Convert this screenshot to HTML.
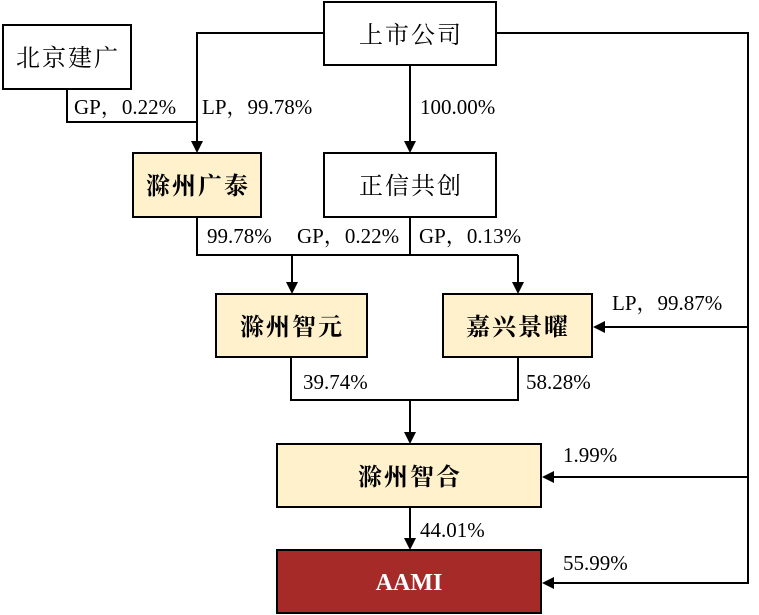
<!DOCTYPE html>
<html>
<head>
<meta charset="utf-8">
<style>
html,body{margin:0;padding:0;background:#fff;}
svg{display:block;}
.lbl{font-family:"Liberation Serif","Noto Serif CJK SC",serif;font-size:21px;fill:#000;}
.box{font-family:"Liberation Serif","Noto Serif CJK SC",serif;font-size:24px;fill:#000;letter-spacing:2px;}
.bold{font-weight:bold;}
</style>
</head>
<body>
<svg width="759" height="615" viewBox="0 0 759 615" xmlns="http://www.w3.org/2000/svg">

  <!-- connectors -->
  <g stroke="#000" stroke-width="2" fill="none">
    <polyline points="323,33 197,33 197,141" />
    <polyline points="67,90 67,122 197,122" />
    <line x1="410" y1="66" x2="410" y2="141"/>
    <polyline points="497,33 748,33 748,584" />
    <polyline points="197,218 197,255 518,255" />
    <line x1="410" y1="218" x2="410" y2="255"/>
    <line x1="292" y1="255" x2="292" y2="282"/>
    <line x1="518" y1="255" x2="518" y2="282"/>
    <polyline points="291,358 291,400 518,400 518,358" />
    <line x1="410" y1="400" x2="410" y2="432"/>
    <line x1="748" y1="327" x2="604" y2="327"/>
    <line x1="748" y1="477" x2="553" y2="477"/>
    <line x1="749" y1="583" x2="553" y2="583"/>
    <line x1="410" y1="508" x2="410" y2="538"/>
  </g>

  <!-- arrowheads -->
  <g fill="#000">
    <path d="M191,141 L203,141 L197,153 Z"/>
    <path d="M404,141 L416,141 L410,153 Z"/>
    <path d="M286,282 L298,282 L292,294 Z"/>
    <path d="M512,282 L524,282 L518,294 Z"/>
    <path d="M404,432 L416,432 L410,444 Z"/>
    <path d="M404,538 L416,538 L410,550 Z"/>
    <path d="M605,321 L605,333 L593,327 Z"/>
    <path d="M554,471 L554,483 L542,477 Z"/>
    <path d="M554,577 L554,589 L542,583 Z"/>
  </g>

  <!-- boxes -->
  <g stroke="#000" stroke-width="2">
    <rect x="3" y="25" width="128" height="64" fill="#fff"/>
    <rect x="324" y="2" width="172" height="63" fill="#fff"/>
    <rect x="133" y="153" width="128" height="64" fill="#FFF1CC"/>
    <rect x="324" y="153" width="172" height="64" fill="#fff"/>
    <rect x="216" y="294" width="151" height="63" fill="#FFF1CC"/>
    <rect x="443" y="294" width="149" height="63" fill="#FFF1CC"/>
    <rect x="277" y="444" width="264" height="63" fill="#FFF1CC"/>
    <rect x="277" y="550" width="264" height="63" fill="#A52A28"/>
  </g>

  <!-- box text -->
  <g text-anchor="middle">
    <text class="box" x="68" y="66">北京建广</text>
    <text class="box" x="411" y="43">上市公司</text>
    <text class="box bold" x="198" y="194">滁州广泰</text>
    <text class="box" x="411" y="194">正信共创</text>
    <text class="box bold" x="292" y="335">滁州智元</text>
    <text class="box bold" x="518" y="335">嘉兴景曜</text>
    <text class="box bold" x="410" y="485">滁州智合</text>
    <text x="409" y="590" font-family="Liberation Serif, serif" font-size="24" font-weight="bold" fill="#fff">AAMI</text>
  </g>

  <!-- labels -->
  <g class="lbl">
    <text x="74" y="114">GP，0.22%</text>
    <text x="202" y="114">LP，99.78%</text>
    <text x="420" y="114">100.00%</text>
    <text x="207" y="243">99.78%</text>
    <text x="297" y="243">GP，0.22%</text>
    <text x="419" y="243">GP，0.13%</text>
    <text x="612" y="310">LP，99.87%</text>
    <text x="303" y="389">39.74%</text>
    <text x="526" y="389">58.28%</text>
    <text x="563" y="462">1.99%</text>
    <text x="420" y="537">44.01%</text>
    <text x="563" y="570">55.99%</text>
  </g>
</svg>
</body>
</html>
